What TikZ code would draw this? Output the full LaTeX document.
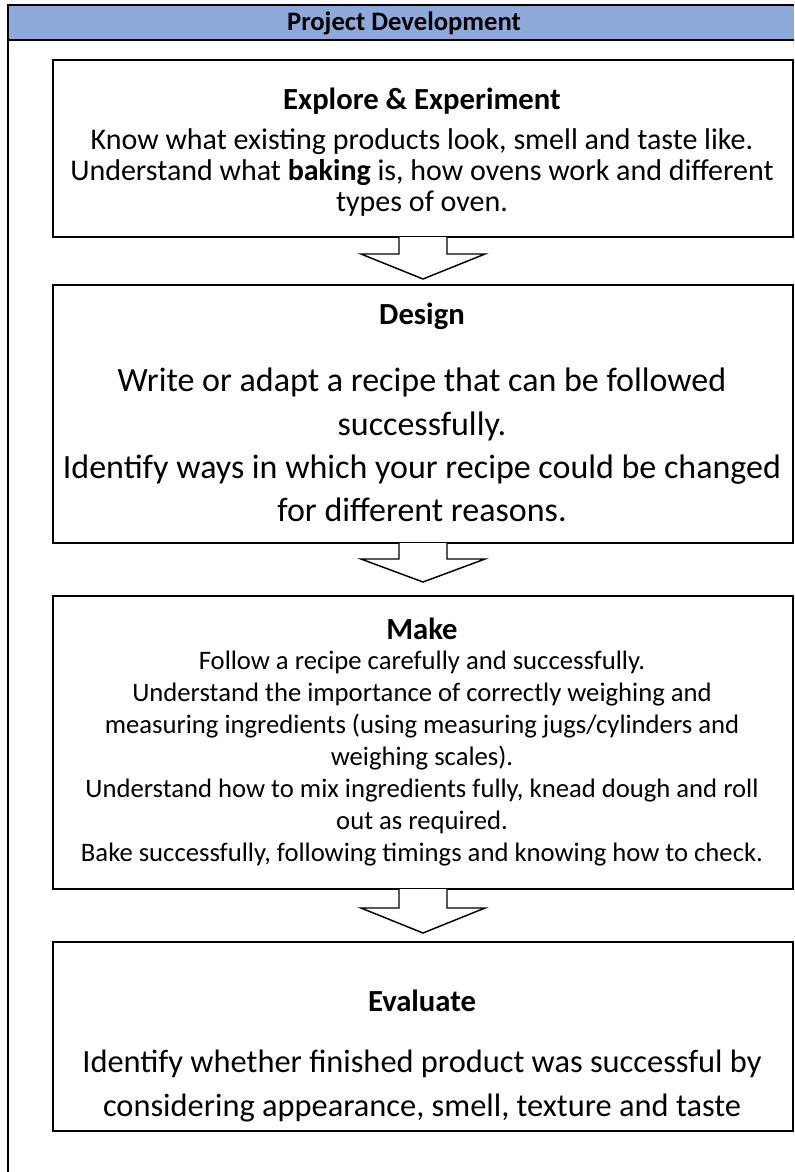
\documentclass[tikz,border=0pt]{standalone}
\usepackage{fontspec}
\setmainfont{Carlito}
\usetikzlibrary{positioning, calc}
\definecolor{headblue}{HTML}{8EAADB}

\begin{document}
\begin{tikzpicture}[x=0.75pt, y=-0.75pt,
  stage/.style={draw, line width=1.5pt, minimum width=555pt, anchor=north west, inner sep=0pt},
  stagetitle/.style={font=\fontsize{23}{27}\selectfont\bfseries},
  blockarrow/.style={draw, fill=white, line width=1.1pt, line join=miter}]
\useasboundingbox (0,0) rectangle (794,1172);

% table frame and header row
\fill[headblue] (8,5) rectangle (794,40);
\draw[line width=1.5pt] (794,5) -- (8,5) -- (8,1172);
\draw[line width=1.5pt] (8,40) -- (794,40);
\node[font=\fontsize{20}{24}\selectfont\bfseries] (head) at (404,23) {Project Development};

% stage boxes
\node[stage, minimum height=132.75pt] (explore) at (52,59) {};
\node[stage, minimum height=193.5pt] (design) at (52,284) {};
\node[stage, minimum height=219.75pt] (make) at (52,595) {};
\node[stage, minimum height=141.75pt] (evaluate) at (52,941) {};

% block arrows between the stages
\foreach \from/\s/\h in {explore/16/25, design/15/23, make/18/25}
  \draw[blockarrow] ($(\from.south)+(-24,-1)$) -- ++(0,\s+1) -- ++(-38,0)
    -- ($(\from.south)+(0,\s+\h)$) -- ($(\from.south)+(62,\s)$) -- ++(-38,0) -- ++(0,-\s-1);

% texts
\node[stagetitle] (exploreT) at (422,101) {Explore \& Experiment};
\node[align=center, font=\fontsize{22.5}{23.25}\selectfont] (exploreB) at (422,172)
  {Know what existing products look, smell and taste like.\\
   Understand what \textbf{baking} is, how ovens work and different\\
   types of oven.};

\node[stagetitle] (designT) at (422,316) {Design};
\node[align=center, font=\fontsize{25.5}{32.5}\selectfont] (designB) at (422,445)
  {Write or adapt a recipe that can be followed\\
   successfully.\\
   Identify ways in which your recipe could be changed\\
   for different reasons.};

\node[stagetitle] (makeT) at (422,629) {Make};
\node[align=center, font=\fontsize{20}{24}\selectfont] (makeB) at (422,759)
  {Follow a recipe carefully and successfully.\\
   Understand the importance of correctly weighing and\\
   measuring ingredients (using measuring jugs/cylinders and\\
   weighing scales).\\
   Understand how to mix ingredients fully, knead dough and roll\\
   out as required.\\
   Bake successfully, following timings and knowing how to check.};

\node[stagetitle] (evaluateT) at (422,1001) {Evaluate};
\node[align=center, font=\fontsize{24.3}{33}\selectfont] (evaluateB) at (422,1086)
  {Identify whether finished product was successful by\\
   considering appearance, smell, texture and taste};

\end{tikzpicture}
\end{document}
